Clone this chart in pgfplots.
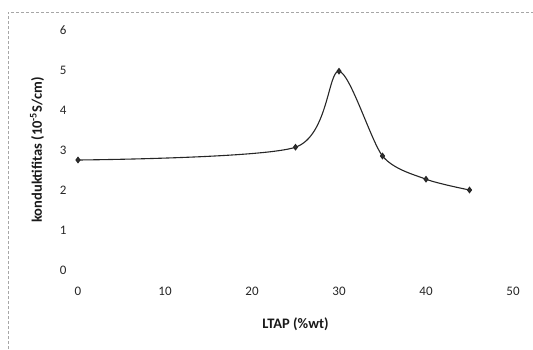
\documentclass[border=0pt]{standalone}
\usepackage{pgfplots}
\pgfplotsset{compat=1.18}
\usepackage{fontspec}
\setmainfont{Carlito}
\begin{document}
\begin{tikzpicture}[x=1pt,y=1pt]
\useasboundingbox (0,0) rectangle (533,349);
% dashed frame of the chart area
\draw[gray!70, densely dashed, line width=0.6pt] (8,0) -- (8,337) -- (533,337);
\begin{axis}[
  at={(78pt,79pt)}, anchor=south west,
  scale only axis, width=435pt, height=240pt,
  xmin=0, xmax=50, ymin=0, ymax=6,
  axis line style={draw=none},
  tick style={draw=none},
  xtick={0,10,...,50}, ytick={0,1,...,6},
  major tick length=0pt,
  tick label style={font=\fontsize{13}{15}\selectfont, text=black!85},
  /pgf/number format/assume math mode=true,
  xticklabel style={yshift=-14pt},
  yticklabel style={xshift=-8pt},
  xlabel={\textbf{LTAP (\%wt)}},
  ylabel={\textbf{konduktifitas (10\textsuperscript{-5}S/cm)}},
  every axis x label/.style={at={(axis description cs:0.5,-0.225)}, anchor=center,
    font=\fontsize{14.5}{16}\selectfont, text=black!90},
  every axis y label/.style={at={(axis description cs:-0.094,0.5)}, rotate=90, anchor=center,
    font=\fontsize{14.5}{16}\selectfont, text=black!90},
  clip=false,
]
\addplot[black!85, line width=1.1pt, smooth, tension=0.45,
  mark=diamond*, mark size=2.6pt, mark options={fill=black!80}]
  coordinates {(0,2.75) (25,3.07) (30,4.97) (35,2.85) (40,2.27) (45,2.0)};
\end{axis}
\end{tikzpicture}
\end{document}
